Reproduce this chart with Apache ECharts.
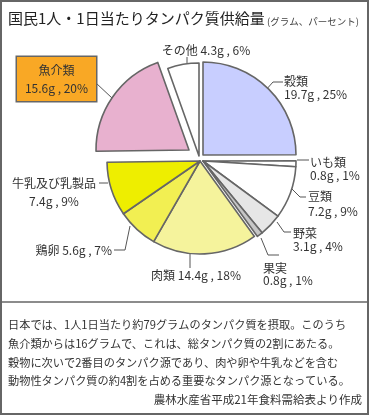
<!DOCTYPE html>
<html><head><meta charset="utf-8">
<script src="https://cdn.jsdelivr.net/npm/echarts@6/dist/echarts.min.js"></script>
<style>html,body{margin:0;padding:0;background:#fff}#c{width:369px;height:415px}</style>
</head><body><div id="c"></div>
<script>
// ---- data ----
const categories = ['穀類','いも類','豆類','野菜','果実','肉類','鶏卵','牛乳及び乳製品','魚介類','その他'];
const grams = [19.7, 0.8, 7.2, 3.1, 0.8, 14.4, 5.6, 7.4, 15.6, 4.3];
const percents = [25, 1, 9, 4, 1, 18, 7, 9, 20, 6];
const titleText = '国民1人・1日当たりタンパク質供給量';
const unitText = '(グラム、パーセント)';
const noteLines = [
  '日本では、1人1日当たり約79グラムのタンパク質を摂取。このうち',
  '魚介類からは16グラムで、これは、総タンパク質の2割にあたる。',
  '穀物に次いで2番目のタンパク源であり、肉や卵や牛乳などを含む',
  '動物性タンパク質の約4割を占める重要なタンパク源となっている。'
];
const sourceText = '農林水産省平成21年食料需給表より作成';

// ---- styles / layout ----
const FONT = '"Noto Sans CJK JP", sans-serif';
const fills = {'穀類':'#c8ceff','いも類':'#ffffff','豆類':'#ffffff','野菜':'#e6e6e6','果実':'#c6c6c6',
  '肉類':'#f5f39c','鶏卵':'#f2ef52','牛乳及び乳製品':'#eeee00','魚介類':'#e8b1cf','その他':'#ffffff'};
const groups = [
  {names:['穀類'], center:[203,155]},
  {names:['いも類','豆類','野菜','果実'], center:[203,161]},
  {names:['肉類','鶏卵','牛乳及び乳製品'], center:[200,161]},
  {names:['魚介類'], center:[189,150]},
  {names:['その他'], center:[199,156]}
];
const R = 93;
const oneLine = {'その他':1,'肉類':1,'鶏卵':1};
const lay = {
  'その他': {x:206, y:50, align:'center', lh:14, pts:[[187,63],[187,57]]},
  '穀類': {x:284, y:88, align:'left', lh:12.5, pts:[[265,91],[273,82],[283,82]]},
  'いも類': {x:310, y:168.5, align:'left', lh:13, pts:[[297,160],[309,160]]},
  '豆類': {x:308, y:204, align:'left', lh:14.5, pts:[[292,189],[300,197],[306,197]]},
  '野菜': {x:293, y:240, align:'left', lh:13.5, pts:[[277,222],[284,232],[291,232]]},
  '果実': {x:263, y:274, align:'left', lh:12, pts:[[261,238],[268,255],[279,255]]},
  '肉類': {x:196, y:275, align:'center', lh:14, pts:[[190,254],[190,268]]},
  '鶏卵': {x:112, y:250, align:'right', lh:14, pts:[[130,226],[125,250],[114,250]]},
  '牛乳及び乳製品': {x:54, y:192.5, align:'center', lh:18.5, pts:[[108,183],[99,183]]},
  '魚介類': {x:56.5, y:79, align:'center', lh:18, pts:[[112,98],[96,83]]}
};

function labelText(i){
  const n = categories[i];
  const v = grams[i].toFixed(1) + 'g , ' + percents[i] + '%';
  return oneLine[n] ? n + ' ' + v : n + '\n' + v;
}

const series = groups.map(g => ({
  type:'pie', center:g.center, radius:[0,R], startAngle:90, clockwise:true,
  avoidLabelOverlap:false, animation:false, silent:true, minAngle:0,
  emphasis:{disabled:true},
  data: categories.map((n,i) => {
    const on = g.names.indexOf(n) >= 0;
    const L = lay[n];
    const isBox = n === '魚介類';
    return {
      name:n, value:grams[i],
      itemStyle: on ? {color:fills[n], borderColor:'#666', borderWidth:1.6} : {color:'rgba(0,0,0,0)', borderWidth:0},
      label: on ? {
        show:true, formatter:labelText(i), color:'#333', fontFamily:FONT, fontSize:12,
        lineHeight:L.lh, align:L.align, overflow:'none',
        backgroundColor: isBox ? '#f9a825' : 'transparent',
        borderColor: isBox ? '#666' : 'transparent', borderWidth: isBox ? 1.5 : 0,
        padding: isBox ? [4,5] : 0, width: isBox ? 69 : null
      } : {show:false},
      labelLine: on ? {show:true, lineStyle:{color:'#555', width:1}} : {show:false}
    };
  }),
  labelLayout: function(p){
    const L = lay[categories[p.dataIndex]];
    return {x:L.x, y:L.y, align:L.align, verticalAlign:'middle', labelLinePoints:L.pts};
  }
}));

const graphics = [
  {type:'rect', shape:{x:1,y:1,width:367,height:413}, style:{fill:'none', stroke:'#666', lineWidth:2}, z:10},
  {type:'line', shape:{x1:0,y1:302,x2:369,y2:302}, style:{stroke:'#666', lineWidth:1.5}, z:10},
  {type:'text', x:8, y:18, style:{text:titleText, font:'15px '+FONT, fill:'#222', textVerticalAlign:'middle'}},
  {type:'text', x:267, y:21, style:{text:unitText, font:'9.5px '+FONT, fill:'#444', textVerticalAlign:'middle'}},
  {type:'text', x:362, y:400, style:{text:sourceText, font:'11.5px '+FONT, fill:'#333', textAlign:'right', textVerticalAlign:'middle'}}
];
const lineYs = [325, 343.3, 362.3, 380.3];
noteLines.forEach((t,k) => graphics.push({type:'text', x:8, y:lineYs[k],
  style:{text:t, font:'11.2px '+FONT, fill:'#333', textVerticalAlign:'middle'}}));

const chart = echarts.init(document.getElementById('c'), null, {renderer:'canvas'});
chart.setOption({animation:false, series:series, graphic:graphics});
</script></body></html>
